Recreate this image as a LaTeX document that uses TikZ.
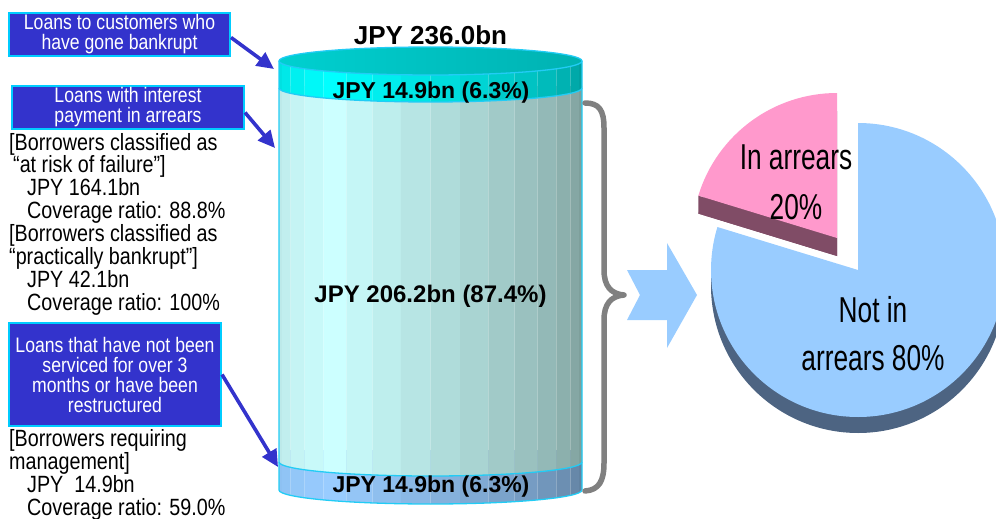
\documentclass[tikz,border=0pt]{standalone}
\usepackage{fontspec}
\setmainfont{Liberation Sans}
\newfontfamily\narrowfont[FakeStretch=0.84]{Liberation Sans}
\newfontfamily\pienarrow[FakeStretch=0.73]{Liberation Sans}
\usetikzlibrary{arrows.meta}

\definecolor{boxblue}{HTML}{3333CC}
\definecolor{boxedge}{HTML}{00CCFF}
\definecolor{cylline}{HTML}{22CCF5}
% body of the cylinder
\definecolor{bodyL}{HTML}{BBE6E6}
\definecolor{bodyP}{HTML}{CCFFFF}
\definecolor{bodyD}{HTML}{7A9A96}
% upper band
\definecolor{topL}{HTML}{00DDDD}
\definecolor{topP}{HTML}{00FFFF}
\definecolor{topD}{HTML}{009C9C}
\definecolor{capL}{HTML}{00D0D0}
\definecolor{capR}{HTML}{00B2B2}
% lower band
\definecolor{baseL}{HTML}{8CC0F0}
\definecolor{baseP}{HTML}{99CCFF}
\definecolor{baseD}{HTML}{5F7E9C}
% pie and arrow
\definecolor{pieblue}{HTML}{99CCFF}
\definecolor{pieblueside}{HTML}{4D6482}
\definecolor{piepink}{HTML}{FF99CC}
\definecolor{piepinkside}{HTML}{804C66}
\definecolor{bracegray}{HTML}{808080}

% faceted cylinder section: #1 flat top y, #2 centre y of bottom ellipse,
% #3 left colour, #4 brightest colour, #5 right colour
\newcommand\cylfacets[5]{%
  \foreach \k in {0,...,15}{%
    \pgfmathsetmacro\ta{\k*11.25}%
    \pgfmathsetmacro\tb{(\k+1)*11.25}%
    \pgfmathsetmacro\tm{(\k+0.5)*11.25}%
    \pgfmathsetmacro\xa{430.5-151.5*cos(\ta)}%
    \pgfmathsetmacro\xb{430.5-151.5*cos(\tb)}%
    \pgfmathsetmacro\ya{#2+14*sin(\ta)}%
    \pgfmathsetmacro\yb{#2+14*sin(\tb)}%
    \ifdim\tm pt<50pt
      \pgfmathtruncatemacro\pc{100*\tm/50}%
      \fill[#4!\pc!#3] (\xa,#1) -- (\xb,#1) -- (\xb,\yb) -- (\xa,\ya) -- cycle;
    \else
      \pgfmathtruncatemacro\pc{100*(\tm-50)/130}%
      \fill[#5!\pc!#4] (\xa,#1) -- (\xb,#1) -- (\xb,\yb) -- (\xa,\ya) -- cycle;
    \fi
  }%
}

\tikzset{
  loanbox/.style={draw=boxedge, line width=2pt, fill=boxblue, text=white,
    align=center, inner sep=2pt,
    font=\narrowfont\fontsize{21}{20}\selectfont},
  infotext/.style={align=left, inner sep=0pt, anchor=west,
    font=\narrowfont\fontsize{23.5}{22.86}\selectfont},
  pointer/.style={draw=boxblue, line width=3.6pt,
    -{Triangle[length=17pt,width=16pt]}},
  cyllabel/.style={font=\bfseries\fontsize{24}{26}\selectfont, inner sep=0pt},
  cyledge/.style={draw=cylline, line width=1.3pt},
  pielabel/.style={align=center, inner sep=0pt},
  bracestyle/.style={draw=bracegray, line width=5.5pt, line cap=round, line join=round},
}

\begin{document}
\begin{tikzpicture}[x=1pt,y=-1pt]
\useasboundingbox (0,0) rectangle (996,519);

% ---------- cylinder ----------
\cylfacets{450}{490}{baseL}{baseP}{baseD}
\cylfacets{86}{462}{bodyL}{bodyP}{bodyD}
\cylfacets{61}{88}{topL}{topP}{topD}
\shade[left color=capL, right color=capR] (430.5,61) ellipse [x radius=151.5, y radius=14];

\draw[cyledge] (430.5,61) ellipse [x radius=151.5, y radius=14];
\draw[cyledge] (279,88) arc[start angle=180, end angle=0, x radius=151.5, y radius=14];
\draw[cyledge] (279,462) arc[start angle=180, end angle=0, x radius=151.5, y radius=14];
\draw[cyledge] (279,61) -- (279,490) arc[start angle=180, end angle=0, x radius=151.5, y radius=14] -- (582,61);

\node[cyllabel, font=\bfseries\fontsize{26}{28}\selectfont] (total) at (430.5,35) {JPY 236.0bn};
\node[cyllabel, font=\bfseries\fontsize{23}{26}\selectfont] (toplab) at (431,93) {JPY 14.9bn (6.3\%)};
\node[cyllabel] (midlab) at (430.5,296) {JPY 206.2bn (87.4\%)};
\node[cyllabel, font=\bfseries\fontsize{23}{26}\selectfont] (baselab) at (431,487) {JPY 14.9bn (6.3\%)};

% ---------- labelled boxes and pointers ----------
\node[loanbox, minimum width=221pt, minimum height=43pt] (b1) at (119.5,34.5)
  {Loans to customers who\\have gone bankrupt};
\node[loanbox, minimum width=232pt, minimum height=43pt] (b2) at (128,107.5)
  {Loans with interest\\payment in arrears};
\node[loanbox, minimum width=212pt, minimum height=103pt] (b3) at (115,374.5)
  {Loans that have not been\\serviced for over 3\\months or have been\\restructured};

\coordinate (p1) at (274,69);
\coordinate (p2) at (275,148);
\coordinate (p3) at (278,467);
\draw[pointer] (b1.east) ++(0,3) coordinate (s1) -- (p1);
\draw[pointer] (b2.east) ++(0,5) coordinate (s2) -- (p2);
\draw[pointer] (b3.east) -- (p3);

\node[infotext] (t1) at (9,224)
  {{[}Borrowers classified as\\
   \hspace*{4pt}“at risk of failure”]\\
   \hspace*{18pt}JPY 164.1bn\\
   \hspace*{18pt}Coverage ratio: 88.8\%\\
   {[}Borrowers classified as\\
   “practically bankrupt”]\\
   \hspace*{18pt}JPY 42.1bn\\
   \hspace*{18pt}Coverage ratio: 100\%};
\node[infotext] (t2) at (9,475)
  {{[}Borrowers requiring\\
   management]\\
   \hspace*{18pt}JPY\ \ 14.9bn\\
   \hspace*{18pt}Coverage ratio: 59.0\%};

% ---------- brace ----------
\draw[bracestyle] (585,103) .. controls (599,103) and (604,110) .. (604,128)
  -- (604,270) .. controls (604,286) and (611,294) .. (624,295)
  .. controls (611,296) and (604,304) .. (604,320)
  -- (604,463) .. controls (604,481) and (599,490) .. (585,491);

% ---------- block arrow ----------
\fill[pieblue] (627,270) coordinate (ba1) -- (667,270) -- (667,243) -- (697,295) coordinate (batip)
  -- (667,348) -- (667,320) -- (627,320) -- (640,295) -- cycle;

% ---------- pie chart ----------
\coordinate (pc) at (858,270);
\coordinate (pcd) at (858,286);
\fill[pieblueside] (pcd) -- ++(-90:147) arc[start angle=-90, end angle=197, radius=147] -- cycle;
\fill[pieblue] (pc) -- ++(-90:147) arc[start angle=-90, end angle=197, radius=147] -- cycle;

\coordinate (pp) at (837,238);
\coordinate (ppd) at (837,256);
\fill[piepinkside] (ppd) -- ++(-90:145) arc[start angle=-90, end angle=-163, radius=145] -- cycle;
\fill[piepinkside] (pp) -- ++(-163:145) -- ++(0,18) -- (ppd) -- cycle;
\fill[piepink] (pp) -- ++(-90:145) arc[start angle=-90, end angle=-163, radius=145] -- cycle;

\node[pielabel, font=\pienarrow\fontsize{36}{50}\selectfont] (inarr) at (796,182) {In arrears\\20\%};
\node[pielabel, font=\pienarrow\fontsize{36}{48}\selectfont] (notarr) at (873,334) {Not in\\arrears 80\%};
\end{tikzpicture}
\end{document}
